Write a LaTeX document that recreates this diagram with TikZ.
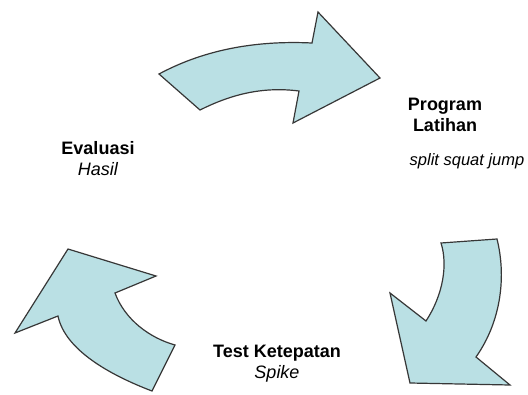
\documentclass[tikz,border=0pt]{standalone}
\usepackage{fontspec}
\setmainfont{Liberation Sans}
\usepackage{tikz}
\definecolor{panah}{RGB}{186,224,228}
\definecolor{garis}{RGB}{55,55,55}
\tikzset{
	panahsiklus/.style={fill=panah, draw=garis, line width=1.2pt, line join=miter},
	labelsiklus/.style={align=center, font=\fontsize{18}{21}\selectfont, inner sep=0pt}
}

\begin{document}
\begin{tikzpicture}[x=1pt, y=-1pt]
			%%%%% START %%%%%
			\useasboundingbox (0, 0) rectangle (528, 394);
			
			% panah atas
			\draw[panahsiklus] (159, 74) .. controls (200, 52) and (250, 40) .. (312, 43)
				-- (318, 12) -- (380, 78) -- (293, 123) -- (299, 91)
				.. controls (260, 86) and (228, 96) .. (200, 110) -- cycle;
			
			% panah kanan bawah
			\draw[panahsiklus] (441, 243) -- (497, 239)
				.. controls (506, 275) and (502, 320) .. (476, 357)
				-- (510, 385) -- (410, 383) -- (390, 293) -- (426, 321)
				.. controls (443, 295) and (448, 265) .. (441, 243) -- cycle;
			
			% panah kiri bawah
			\draw[panahsiklus] (68, 249) -- (156, 276) -- (115, 293)
				.. controls (125, 320) and (150, 338) .. (175, 345)
				-- (152, 391)
				.. controls (110, 375) and (65, 350) .. (58, 316)
				-- (15, 333) -- cycle;
			
			\node[labelsiklus] (evaluasi) at (98, 159) {\textbf{Evaluasi}\\\textit{Hasil}};
			\node[labelsiklus] (program) at (445, 115) {\textbf{Program}\\\textbf{Latihan}};
			\node[labelsiklus, font=\fontsize{16.5}{20}\selectfont, anchor=north] (latihan) at (467, 153) {\textit{split squat jump}};
			\node[labelsiklus] (tes) at (277, 364) {\textbf{Test Ketepatan}\\\textit{Spike}};
			
			%%%%% END %%%%%
\end{tikzpicture}
\end{document}
